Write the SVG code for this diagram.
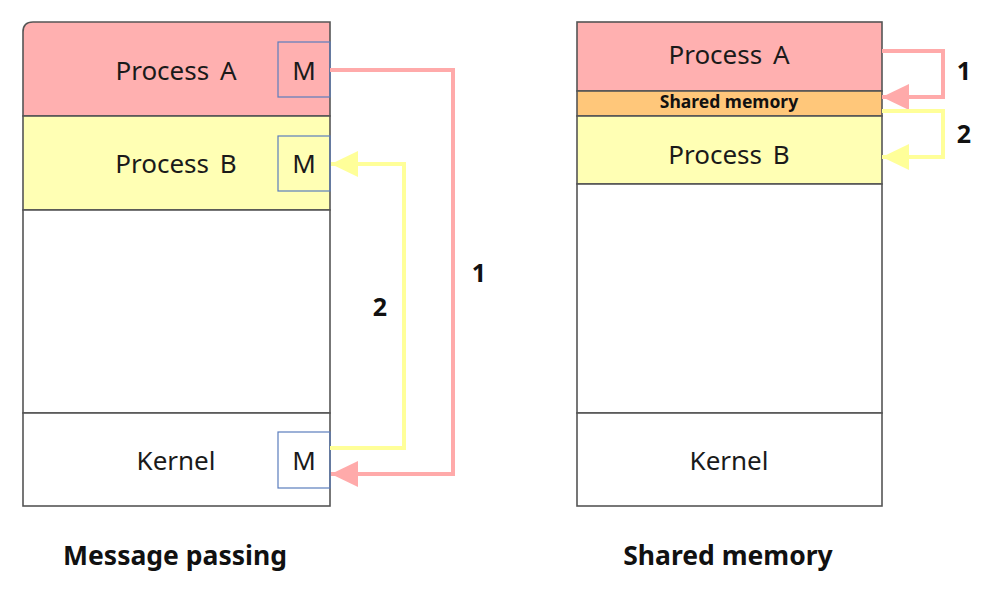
<svg xmlns="http://www.w3.org/2000/svg" width="999" height="599" viewBox="0 0 999 599">
<defs>
<style>
.sec{stroke:#555555;stroke-width:1.6}
.pa{fill:#FFB0B0}
.pb{fill:#FFFFB4}
.sm{fill:#FFC77A}
.wh{fill:#FFFFFF}
.mbox{fill:none;stroke:#5B7DBD;stroke-width:1.2}
.t{font-family:"Noto Sans","Open Sans",sans-serif;font-size:26px;fill:#1a1a1a;text-anchor:middle}
.b{font-family:"Noto Sans","Open Sans",sans-serif;font-weight:bold;fill:#111;text-anchor:middle}
.red{fill:none;stroke:#FFAAAA;stroke-width:4}
.yel{fill:none;stroke:#FFFF99;stroke-width:4}
</style>
<marker id="ar" markerUnits="userSpaceOnUse" markerWidth="27" markerHeight="26" refX="27" refY="13" orient="auto"><path d="M0,0 L27,13 L0,26 Z" fill="#FFAAAA"/></marker>
<marker id="ay" markerUnits="userSpaceOnUse" markerWidth="27" markerHeight="26" refX="27" refY="13" orient="auto"><path d="M0,0 L27,13 L0,26 Z" fill="#FFFF99"/></marker>
</defs>

<g id="mp-processA">
<path class="sec pa" d="M33,22 H330 V116 H23 V32 Q23,22 33,22 Z"/>
<text class="t" x="176" y="80" word-spacing="4">Process A</text>
<rect class="mbox" x="278" y="42" width="52" height="55"/>
<text class="t" x="304" y="80">M</text>
</g>
<g id="mp-processB">
<rect class="sec pb" x="23" y="116" width="307" height="94"/>
<text class="t" x="176" y="173" word-spacing="4">Process B</text>
<rect class="mbox" x="278" y="136" width="52" height="55"/>
<text class="t" x="304" y="173">M</text>
</g>
<g id="mp-empty">
<rect class="sec wh" x="23" y="210" width="307" height="203"/>
</g>
<g id="mp-kernel">
<rect class="sec wh" x="23" y="413" width="307" height="93"/>
<text class="t" x="176" y="470">Kernel</text>
<rect class="mbox" x="278" y="432" width="52" height="56"/>
<text class="t" x="304" y="470">M</text>
</g>

<g id="sm-processA">
<rect class="sec pa" x="577" y="22" width="305" height="69"/>
<text class="t" x="729" y="64" word-spacing="4">Process A</text>
</g>
<g id="sm-shared">
<rect class="sec sm" x="577" y="91" width="305" height="25"/>
<text class="b" x="729" y="108" font-size="17.5">Shared memory</text>
</g>
<g id="sm-processB">
<rect class="sec pb" x="577" y="116" width="305" height="68"/>
<text class="t" x="729" y="164" word-spacing="4">Process B</text>
</g>
<g id="sm-empty">
<rect class="sec wh" x="577" y="184" width="305" height="229"/>
</g>
<g id="sm-kernel">
<rect class="sec wh" x="577" y="413" width="305" height="93"/>
<text class="t" x="729" y="470">Kernel</text>
</g>

<g id="connectors">
<path class="red" d="M330,70 H453 V474 H331" marker-end="url(#ar)"/>
<path class="yel" d="M330,448 H404 V164 H331" marker-end="url(#ay)"/>
<path class="red" d="M882,51 H943 V97 H882" marker-end="url(#ar)"/>
<path class="yel" d="M882,111 H943 V157 H882" marker-end="url(#ay)"/>
</g>

<g id="labels">
<text class="b" x="479" y="282" font-size="25">1</text>
<text class="b" x="380" y="316" font-size="25">2</text>
<text class="b" x="964" y="80" font-size="25">1</text>
<text class="b" x="964" y="143" font-size="25">2</text>
<text class="b" x="175" y="565" font-size="26.5">Message passing</text>
<text class="b" x="728" y="565" font-size="26.5">Shared memory</text>
</g>
</svg>
